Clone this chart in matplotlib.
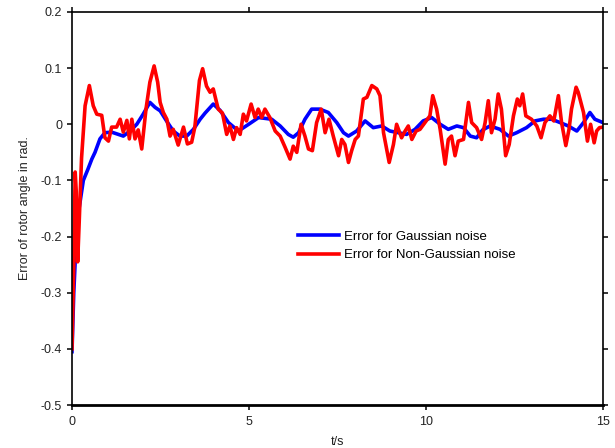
import matplotlib
matplotlib.use("Agg")
import matplotlib.pyplot as plt

plt.rcParams['font.family'] = ['Liberation Sans', 'DejaVu Sans']

# blue curve: error for Gaussian noise
t_gauss = [0, 0.05, 0.13, 0.2, 0.32, 0.45, 0.56, 0.65, 0.79, 0.93, 1.12, 1.31, 1.45,
           1.64, 1.83, 2.01, 2.2, 2.35, 2.49, 2.67, 2.86, 3.05, 3.24, 3.43, 3.62, 3.76,
           3.99, 4.18, 4.42, 4.7, 4.99, 5.27, 5.64, 5.88, 6.11, 6.25, 6.4, 6.58, 6.77,
           7.0, 7.24, 7.48, 7.67, 7.81, 8.04, 8.28, 8.51, 8.75, 8.98, 9.22, 9.45, 9.69,
           9.92, 10.16, 10.4, 10.63, 10.87, 11.06, 11.25, 11.43, 11.6, 11.81, 12.09,
           12.33, 12.56, 12.84, 13.08, 13.32, 13.55, 13.79, 14.02, 14.26, 14.45, 14.63,
           14.77, 15.0]
e_gauss = [-0.405, -0.30, -0.19, -0.15, -0.10, -0.08, -0.062, -0.05, -0.026, -0.015,
           -0.014, -0.018, -0.021, -0.012, 0.0, 0.018, 0.039, 0.03, 0.024, 0.006, -0.012,
           -0.021, -0.021, -0.009, 0.009, 0.02, 0.036, 0.025, 0.003, -0.012, 0.0, 0.012,
           0.009, -0.003, -0.018, -0.023, -0.015, 0.009, 0.027, 0.027, 0.021, 0.003,
           -0.015, -0.021, -0.012, 0.006, -0.006, -0.003, -0.012, -0.015, -0.018, -0.009,
           0.006, 0.012, 0.0, -0.009, -0.003, -0.006, -0.021, -0.024, -0.01, -0.003,
           -0.009, -0.021, -0.015, -0.006, 0.006, 0.009, 0.009, 0.003, -0.003, -0.012,
           0.003, 0.021, 0.009, 0.003]

# red curve: error for non-Gaussian noise
t_nongauss = [0, 0.05, 0.09, 0.12, 0.16, 0.2, 0.27, 0.37, 0.49, 0.6, 0.7, 0.84, 0.93,
              1.03, 1.12, 1.26, 1.36, 1.45, 1.55, 1.62, 1.69, 1.78, 1.87, 1.97, 2.09,
              2.2, 2.32, 2.42, 2.49, 2.58, 2.68, 2.77, 2.86, 3.0, 3.15, 3.26, 3.38, 3.47,
              3.6, 3.69, 3.8, 3.9, 3.99, 4.13, 4.25, 4.37, 4.46, 4.56, 4.65, 4.75, 4.84,
              4.93, 5.06, 5.17, 5.26, 5.36, 5.45, 5.59, 5.74, 5.88, 6.02, 6.16, 6.25,
              6.35, 6.47, 6.58, 6.68, 6.79, 6.91, 7.04, 7.15, 7.26, 7.38, 7.53, 7.62,
              7.71, 7.81, 7.9, 8.0, 8.09, 8.23, 8.33, 8.47, 8.61, 8.7, 8.8, 8.96, 9.08,
              9.17, 9.31, 9.41, 9.5, 9.6, 9.72, 9.83, 9.97, 10.11, 10.19, 10.3, 10.4,
              10.54, 10.63, 10.72, 10.82, 10.91, 11.06, 11.2, 11.29, 11.43, 11.57, 11.67,
              11.76, 11.85, 11.95, 12.04, 12.13, 12.25, 12.35, 12.47, 12.58, 12.65,
              12.73, 12.82, 12.98, 13.13, 13.25, 13.36, 13.5, 13.61, 13.74, 13.83,
              13.95, 14.04, 14.11, 14.24, 14.3, 14.45, 14.56, 14.65, 14.75, 14.82,
              14.9, 15.0]
e_nongauss = [-0.40, -0.25, -0.085, -0.12, -0.245, -0.18, -0.06, 0.033, 0.069, 0.033,
              0.018, 0.016, -0.024, -0.03, -0.005, -0.005, 0.009, -0.014, 0.007, -0.026,
              0.009, -0.026, -0.01, -0.044, 0.027, 0.075, 0.104, 0.075, 0.039, 0.021,
              0.009, -0.021, -0.009, -0.037, -0.005, -0.035, -0.032, -0.005, 0.078,
              0.099, 0.068, 0.057, 0.063, 0.027, 0.02, -0.018, -0.003, -0.027, -0.006,
              -0.018, 0.018, 0.006, 0.036, 0.012, 0.027, 0.012, 0.027, 0.012, -0.012,
              -0.021, -0.041, -0.062, -0.039, -0.05, 0.0, -0.021, -0.044, -0.047, 0.003,
              0.027, -0.015, 0.009, -0.021, -0.056, -0.027, -0.036, -0.068, -0.047,
              -0.027, -0.021, 0.045, 0.048, 0.069, 0.063, 0.051, -0.015, -0.068, -0.036,
              0.0, -0.024, -0.012, -0.003, -0.027, -0.012, -0.009, 0.003, 0.015, 0.051,
              0.027, -0.009, -0.071, -0.027, -0.021, -0.056, -0.03, -0.027, 0.039, 0.003,
              -0.006, -0.027, 0.003, 0.042, -0.015, 0.009, 0.054, 0.027, -0.056, -0.036,
              0.015, 0.045, 0.033, 0.054, 0.015, 0.009, -0.003, -0.024, 0.003, 0.015,
              0.006, 0.051, 0.003, -0.038, -0.009, 0.027, 0.066, 0.057, 0.021, -0.03,
              0.0, -0.033, -0.012, -0.006, -0.005]

x_ticks = [0, 5, 10, 15]
y_ticks = [-0.5, -0.4, -0.3, -0.2, -0.1, 0, 0.1, 0.2]
y_labels = ['-0.5', '-0.4', '-0.3', '-0.2', '-0.1', '0', '0.1', '0.2']

fig = plt.figure(figsize=(6.15, 4.48), dpi=100)
ax = fig.add_axes([72 / 615, 1 - 405 / 448, 531 / 615, 393 / 448])

ax.plot(t_gauss, e_gauss, color='#0000ff', lw=2.6, label='Error for Gaussian noise')
ax.plot(t_nongauss, e_nongauss, color='#ff0000', lw=2.6, label='Error for Non-Gaussian noise')

ax.set_xlim(0, 15)
ax.set_ylim(-0.5, 0.2)
ax.set_xticks(x_ticks)
ax.set_xticklabels([str(v) for v in x_ticks])
ax.set_yticks(y_ticks)
ax.set_yticklabels(y_labels)
ax.tick_params(direction='out', length=3.6, width=1.1, labelsize=9,
               top=True, right=True, colors='black', labelcolor='#222222')
ax.tick_params(axis='x', pad=4.5)

for side in ['left', 'right', 'top']:
    ax.spines[side].set_linewidth(1.2)
ax.spines['bottom'].set_linewidth(2.0)

ax.set_xlabel('t/s', fontsize=9, color='#222222')
ax.xaxis.set_label_coords(0.5, -0.079)
ax.set_ylabel('Error of rotor angle in rad.', fontsize=9, color='#222222')
ax.yaxis.set_label_coords(-0.077, 0.5)

ax.legend(loc='center left', bbox_to_anchor=(298 / 615, 1 - 246 / 448),
          bbox_transform=fig.transFigure, frameon=False, fontsize=9.5,
          borderpad=0, borderaxespad=0, handlelength=3.1, handletextpad=0.4,
          labelspacing=0.45)

fig.savefig('out.png', dpi=100)
